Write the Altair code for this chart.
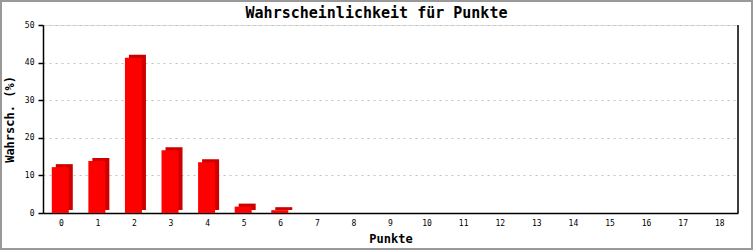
import altair as alt
import pandas as pd

punkte = [str(i) for i in range(19)]
werte = [12.2, 13.8, 41.3, 16.7, 13.5, 1.7, 0.75, 0, 0, 0, 0, 0, 0, 0, 0, 0, 0, 0, 0]
titel = "Wahrscheinlichkeit für Punkte"

df = pd.DataFrame({"Punkte": punkte, "Wert": werte})
df_bars = df[df["Wert"] > 0]

W, H = 695, 188
PL, PT, PR, PB = 43, 25, 15, 37
FONT = "DejaVu Sans Mono"

x_enc = alt.X("Punkte:O", sort=punkte,
              scale=alt.Scale(domain=punkte),
              axis=alt.Axis(title="Punkte", labelAngle=0, ticks=False, domain=True,
                            domainColor="black", domainWidth=1.5, labelFont=FONT,
                            labelFontSize=8, labelColor="black", labelPadding=6,
                            titleFont=FONT, titleFontSize=12, titleFontWeight="bold",
                            titleColor="black", titlePadding=6))
y_enc = alt.Y("Wert:Q", scale=alt.Scale(domain=[0, 50]),
              axis=alt.Axis(title="Wahrsch. (%)", values=[0, 10, 20, 30, 40, 50],
                            grid=True, gridColor="#c0c0c0", gridDash=[2, 4],
                            domainColor="black", domainWidth=1.5, tickColor="black",
                            tickSize=5, tickWidth=1.5, labelFont=FONT, labelFontSize=8,
                            labelColor="black", labelPadding=4, titleFont=FONT,
                            titleFontSize=12, titleFontWeight="bold", titleColor="black",
                            titlePadding=8))

base = alt.Chart(df_bars)
shadow = base.mark_bar(size=17, color="#cc0000", xOffset=3, yOffset=-3).encode(x=x_enc, y=y_enc)
front = base.mark_bar(size=17, color="#ff0000", xOffset=-1).encode(x=x_enc, y=y_enc)

one = pd.DataFrame({"t": [titel]})
right_line = alt.Chart(one).mark_rule(color="black", strokeWidth=1.5).encode(
    x=alt.value(W), y=alt.value(0), y2=alt.value(H))
border = alt.Chart(one).mark_rect(fill=None, stroke="#999999", strokeWidth=2).encode(
    x=alt.value(-PL + 1), x2=alt.value(W + PR - 1), y=alt.value(-PT + 1), y2=alt.value(H + PB - 1))
title_text = alt.Chart(one).mark_text(font=FONT, fontSize=15, fontWeight="bold", color="black",
                                      align="center", baseline="middle").encode(
    x=alt.value((753 / 2) - PL), y=alt.value(13 - PT), text="t:N")

chart = alt.layer(shadow, front, right_line, border, title_text).properties(
    width=W, height=H,
    autosize=alt.AutoSizeParams(type="none"),
    padding={"left": PL, "top": PT, "right": PR, "bottom": PB},
).configure_view(stroke=None).configure(background="white")

chart.save("out.html", embed_options={"renderer": "svg", "actions": False})
